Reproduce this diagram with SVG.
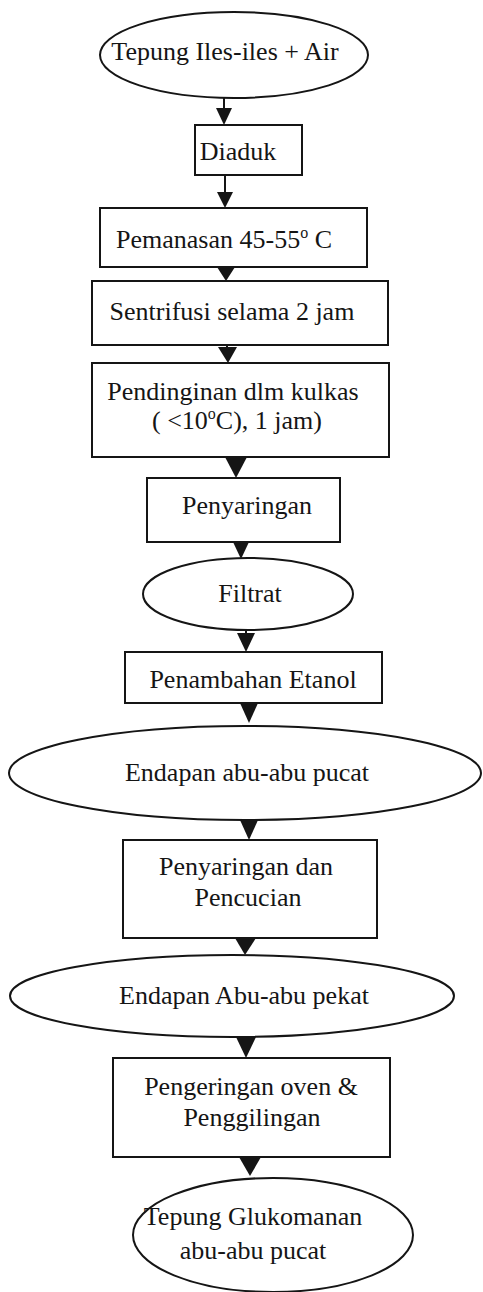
<svg xmlns="http://www.w3.org/2000/svg" width="483" height="1292" viewBox="0 0 483 1292">
<style>
.shape{fill:#fff;stroke:#151515;stroke-width:2}
.t{font-family:"Liberation Serif","Times New Roman",serif;font-size:26px;fill:#151515;text-anchor:middle}
.ln{stroke:#151515;stroke-width:2;fill:none}
.ah{fill:#151515;stroke:none}
</style>
<rect width="483" height="1292" fill="#fff"/>
<g id="connectors">
<line class="ln" x1="224" y1="98" x2="224" y2="110"/>
<polygon class="ah" points="216,108 232,108 224,125"/>
<line class="ln" x1="225" y1="175" x2="225" y2="194"/>
<polygon class="ah" points="217,192 233,192 225,208"/>
<polygon class="ah" points="217,267 235,267 226,281"/>
<line class="ln" x1="227" y1="345" x2="227" y2="349"/>
<polygon class="ah" points="218,347 237,347 228,363"/>
<polygon class="ah" points="225,457 247,457 236,478"/>
<polygon class="ah" points="233,542 249,542 241,559"/>
<line class="ln" x1="246" y1="630" x2="246" y2="635"/>
<polygon class="ah" points="237,633 255,633 246,652"/>
<polygon class="ah" points="240,703 258,703 249,723"/>
<polygon class="ah" points="240,820 258,820 249,840"/>
<polygon class="ah" points="235,938 256,938 245,955"/>
<polygon class="ah" points="236,1037 256,1037 246,1058"/>
<polygon class="ah" points="239,1157 261,1157 250,1176"/>
</g>
<g id="n1"><ellipse class="shape" cx="234" cy="55" rx="134" ry="43"/><text class="t" x="225" y="60">Tepung Iles-iles + Air</text></g>
<g id="n2"><rect class="shape" x="195" y="125" width="107" height="50"/><text class="t" x="238" y="160">Diaduk</text></g>
<g id="n3"><rect class="shape" x="100" y="208" width="267" height="59"/><text class="t" x="224" y="248">Pemanasan 45-55<tspan font-size="16" dy="-10">o</tspan><tspan dy="10"> C</tspan></text></g>
<g id="n4"><rect class="shape" x="92" y="281" width="296" height="64"/><text class="t" x="232" y="320">Sentrifusi selama 2 jam</text></g>
<g id="n5"><rect class="shape" x="92" y="363" width="297" height="94"/><text class="t" x="233" y="400">Pendinginan dlm kulkas</text><text class="t" x="237" y="429">( &lt;10<tspan font-size="16" dy="-10">o</tspan><tspan dy="10">C), 1 jam)</tspan></text></g>
<g id="n6"><rect class="shape" x="147" y="478" width="193" height="64"/><text class="t" x="247" y="514">Penyaringan</text></g>
<g id="n7"><ellipse class="shape" cx="248" cy="594" rx="105" ry="36"/><text class="t" x="250" y="602">Filtrat</text></g>
<g id="n8"><rect class="shape" x="125" y="652" width="257" height="51"/><text class="t" x="253" y="688">Penambahan Etanol</text></g>
<g id="n9"><ellipse class="shape" cx="245" cy="773" rx="236" ry="47"/><text class="t" x="247" y="781">Endapan abu-abu pucat</text></g>
<g id="n10"><rect class="shape" x="123" y="840" width="254" height="98"/><text class="t" x="246" y="875">Penyaringan dan</text><text class="t" x="248" y="906">Pencucian</text></g>
<g id="n11"><ellipse class="shape" cx="232" cy="996" rx="222" ry="41"/><text class="t" x="244" y="1004">Endapan Abu-abu pekat</text></g>
<g id="n12"><rect class="shape" x="113" y="1058" width="277" height="99"/><text class="t" x="251" y="1095">Pengeringan oven &amp;</text><text class="t" x="252" y="1126">Penggilingan</text></g>
<g id="n13"><ellipse class="shape" cx="273" cy="1235" rx="140" ry="57"/><text class="t" x="253" y="1225">Tepung Glukomanan</text><text class="t" x="253" y="1259">abu-abu pucat</text></g>
</svg>
